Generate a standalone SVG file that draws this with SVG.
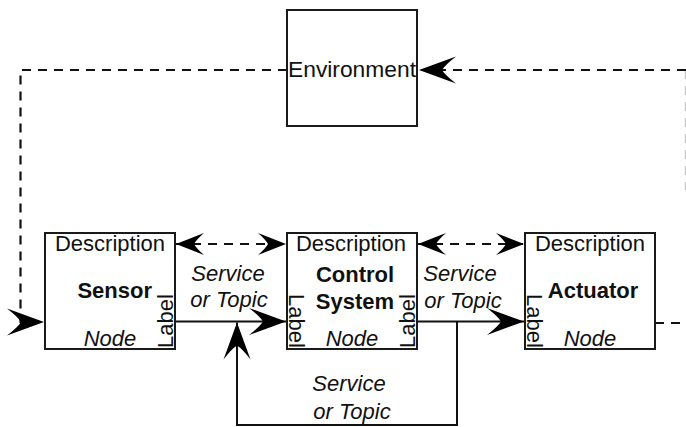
<svg xmlns="http://www.w3.org/2000/svg" width="686" height="427" viewBox="0 0 686 427">
<style>
  .box { fill: #ffffff; stroke: #1a1a1a; stroke-width: 2; }
  .t { font-family: "Liberation Sans", Arial, sans-serif; font-size: 22px; fill: #111; }
  .b { font-weight: bold; }
  .i { font-style: italic; }
  .solid { fill: none; stroke: #111; stroke-width: 2; }
  .dash { fill: none; stroke: #111; stroke-width: 2.2; stroke-dasharray: 9 7; }
  .faint { fill: none; stroke: #c8c8c8; stroke-width: 1.5; stroke-dasharray: 9 7; }
</style>
<defs>
  <marker id="big" markerUnits="userSpaceOnUse" markerWidth="40" markerHeight="30" refX="38" refY="14" orient="auto-start-reverse" viewBox="0 0 40 28">
    <path d="M38,14 L1,0.5 Q12,9 15,14 Q12,19 1,27.5 Z" fill="#000"/>
  </marker>
  <marker id="small" markerUnits="userSpaceOnUse" markerWidth="30" markerHeight="24" refX="29" refY="11" orient="auto-start-reverse" viewBox="0 0 30 22">
    <path d="M29,11 L1,0 Q9,7 11,11 Q9,15 1,22 Z" fill="#000"/>
  </marker>
</defs>

<g id="connectors">
  <!-- Environment -> Sensor (dashed loop on left) -->
  <path class="dash" d="M287,70 H20.5 V322 H44" marker-end="url(#big)"/>
  <!-- Actuator -> Environment (dashed on right) -->
  <path class="dash" d="M655,323 H686"/>
  <path class="faint" d="M685.5,70 V190"/>
  <path class="dash" d="M686,70 H419" marker-end="url(#big)"/>
  <!-- double dashed arrows -->
  <path class="dash" d="M176,244 H286" marker-start="url(#small)" marker-end="url(#small)"/>
  <path class="dash" d="M418,244 H524" marker-start="url(#small)" marker-end="url(#small)"/>
  <!-- solid flows -->
  <path class="solid" d="M175,321.5 H286" marker-end="url(#big)"/>
  <path class="solid" d="M417,321.5 H524" marker-end="url(#big)"/>
  <!-- feedback loop -->
  <path class="solid" d="M457,321.5 V425 H237 V322.5" marker-end="url(#big)"/>
  <!-- labels -->
  <text class="t i" x="228" y="281" text-anchor="middle">Service</text>
  <text class="t i" x="229" y="307" text-anchor="middle">or Topic</text>
  <text class="t i" x="460" y="281" text-anchor="middle">Service</text>
  <text class="t i" x="463" y="308" text-anchor="middle">or Topic</text>
  <text class="t i" x="349" y="391" text-anchor="middle">Service</text>
  <text class="t i" x="352" y="419" text-anchor="middle">or Topic</text>
</g>

<g id="environment">
  <rect class="box" x="287" y="10" width="130" height="116"/>
  <text class="t" x="352" y="77" text-anchor="middle" textLength="128" lengthAdjust="spacingAndGlyphs">Environment</text>
</g>

<g id="sensor">
  <rect class="box" x="45" y="233" width="130" height="116"/>
  <text class="t" x="110" y="251" text-anchor="middle">Description</text>
  <text class="t b" x="152" y="298" text-anchor="end">Sensor</text>
  <text class="t i" x="110" y="346" text-anchor="middle">Node</text>
  <text class="t" transform="translate(173,348) rotate(-90)">Label</text>
</g>

<g id="control">
  <rect class="box" x="287" y="233" width="130" height="116"/>
  <text class="t" x="351" y="251" text-anchor="middle">Description</text>
  <text class="t b" x="355" y="282" text-anchor="middle">Control</text>
  <text class="t b" x="355" y="309" text-anchor="middle">System</text>
  <text class="t i" x="352" y="346" text-anchor="middle">Node</text>
  <text class="t" transform="translate(289,294) rotate(90)">Label</text>
  <text class="t" transform="translate(415,348) rotate(-90)">Label</text>
</g>

<g id="actuator">
  <rect class="box" x="525" y="233" width="130" height="116"/>
  <text class="t" x="590" y="251" text-anchor="middle">Description</text>
  <text class="t b" x="593" y="298" text-anchor="middle">Actuator</text>
  <text class="t i" x="590" y="346" text-anchor="middle">Node</text>
  <text class="t" transform="translate(527,294) rotate(90)">Label</text>
</g>
</svg>
